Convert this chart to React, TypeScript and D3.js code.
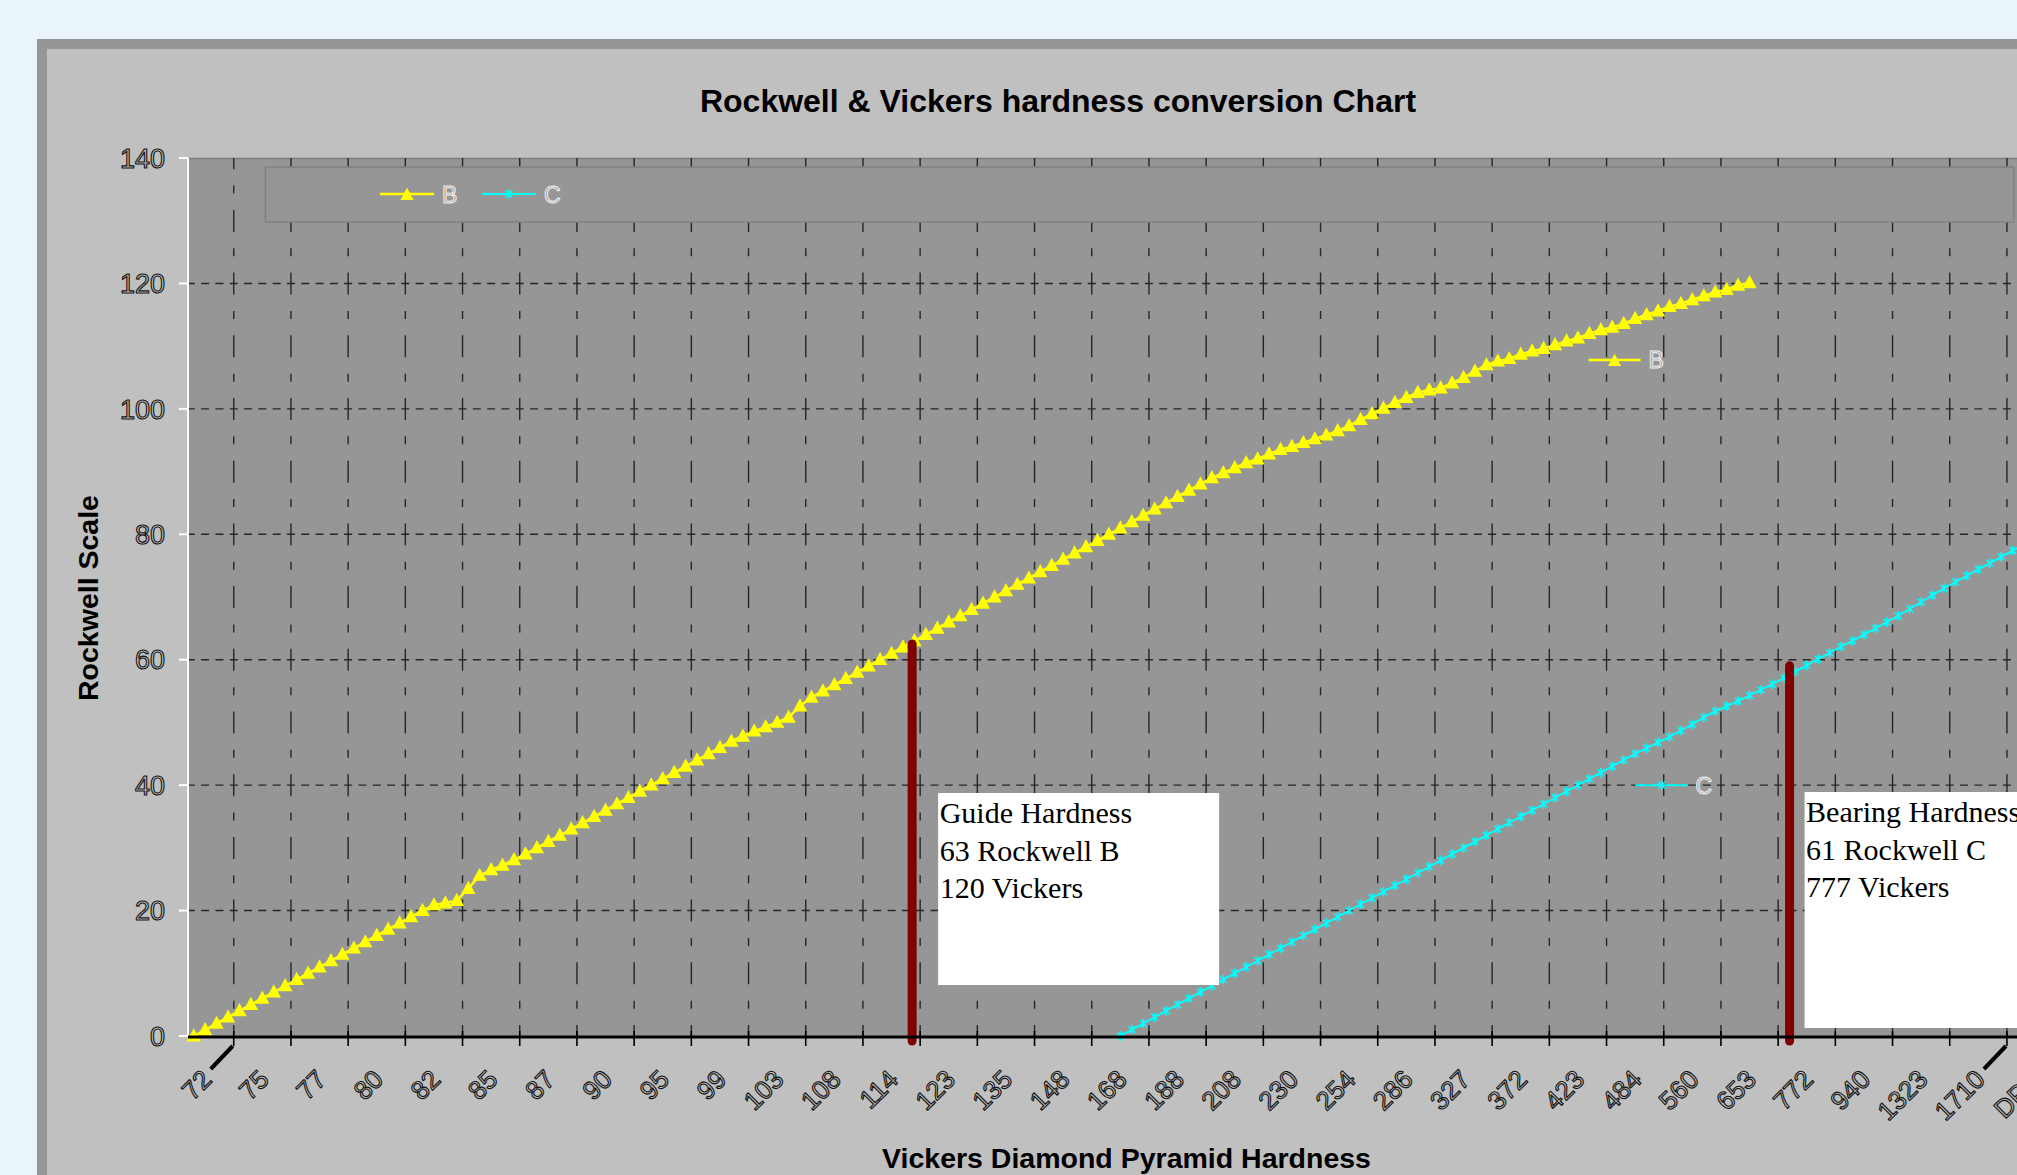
import React, { useEffect } from 'react';
import * as d3 from 'd3';

// ---------- data ----------
const X_LABELS = ['72', '75', '77', '80', '82', '85', '87', '90', '95', '99', '103', '108', '114', '123', '135', '148', '168', '188', '208', '230', '254', '286', '327', '372', '423', '484', '560', '653', '772', '940', '1323', '1710', 'DPH'];
const Y_TICKS = [0, 20, 40, 60, 80, 100, 120, 140];

// Rockwell B, one value per category starting at category 0
const B_VALUES = [
  0, 1, 2, 3, 4, 5, 6, 7, 8, 9,
  10, 11, 12, 13, 14, 15, 16, 17, 18, 19,
  20, 20.9, 21.2, 21.6, 23.5, 25.6, 26.5, 27.2, 28.1, 29,
  30, 31, 32, 33, 34, 35, 36, 37, 38, 39,
  40, 41, 42, 43, 44, 45, 46, 47, 47.8, 48.6,
  49.3, 50, 50.8, 52.6, 54, 55, 56, 57, 58, 59,
  60, 61, 62, 63, 64, 65, 66, 67, 68, 69,
  70, 71, 72, 73, 74, 75, 76, 77, 78, 79,
  80, 81, 82, 83, 84, 85, 86, 87, 88, 89,
  89.8, 90.6, 91.4, 92, 92.8, 93.5, 94, 94.6, 95.2, 95.8,
  96.5, 97.3, 98.3, 99.2, 100.1, 101, 101.8, 102.6, 103, 103.3,
  104.1, 105, 106, 107, 107.6, 108, 108.7, 109.2, 109.6, 110.2,
  110.8, 111.3, 112, 112.6, 113, 113.6, 114.4, 115, 115.6, 116.3,
  116.8, 117.4, 118, 118.6, 119, 119.7, 120.1,
];

// Rockwell C, starting at category C_START
const C_START = 81;
const C_VALUES = [
  0, 1, 2, 3, 4, 5, 6, 7, 8, 9,
  10, 11, 12, 13, 14, 15, 16, 17, 18, 19,
  20, 21, 22, 23, 24, 25, 26, 27, 28, 29,
  30, 31, 32, 33, 34, 35, 36, 37, 38, 39,
  40, 41, 42, 43, 44, 45, 45.9, 46.8, 47.7, 48.7,
  49.7, 50.8, 51.8, 52.6, 53.4, 54.3, 55.2, 56.1, 57.1, 58.1,
  59.1, 60.1, 61.1, 62.1, 63, 64, 65, 66, 67, 68.1,
  69.2, 70.3, 71.4, 72.4, 73.4, 74.4, 75.4, 76.4, 77.4, 78.4,
];

const ANNOTATIONS = [
  { at: 62.8, value: 63, lines: ['Guide Hardness', '63 Rockwell B', '120 Vickers'] },
  { at: 139.5, value: 59.5, lines: ['Bearing Hardness', '61 Rockwell C', '777 Vickers'] },
];

const SERIES_TAGS = [
  { name: 'B', at: 124.2, value: 107.8 },
  { name: 'C', at: 128.3, value: 40 },
];

// ---------- layout ----------
const W = 2017;
const H = 1175;
const PLOT_LEFT = 188;
const PLOT_TOP = 158;
const PLOT_BOTTOM = 1036;
const CAT_W = 11.44;
const FIRST_CAT_X = 193.7;
const TICK_EVERY = 5;
const TICK_OFFSET = 3.5;
const BOX_LAYOUT = [
  { dx: 26, top: 793, w: 281, h: 192, base: 823 },
  { dx: 15, top: 792, w: 300, h: 236, base: 822 },
];
const SANS = '"Liberation Sans", Arial, sans-serif';
const SERIF = '"Liberation Serif", "Times New Roman", serif';
const YELLOW = '#ffff00';
const CYAN = '#00ffff';
const MAROON = '#800000';

const xScale = d3.scaleLinear().domain([0, 1]).range([FIRST_CAT_X, FIRST_CAT_X + CAT_W]);
const yScale = d3.scaleLinear().domain([0, 140]).range([PLOT_BOTTOM, PLOT_TOP]);

const bPoints: [number, number][] = B_VALUES.map((v, i) => [xScale(i), yScale(v)]);
const cPoints: [number, number][] = C_VALUES.map((v, i) => [xScale(C_START + i), yScale(v)]);
const lineGen = d3.line<[number, number]>().x((d) => d[0]).y((d) => d[1]);

const tickX = (k: number) => xScale(TICK_OFFSET + TICK_EVERY * k);

function triangle(x: number, y: number, s = 1.2) {
  return `M${x},${y - 6.5 * s} L${x + 6 * s},${y + 4.5 * s} L${x - 6 * s},${y + 4.5 * s} Z`;
}
function star(x: number, y: number) {
  const a = 3.4;
  return `M${x - a},${y - a} L${x + a},${y + a} M${x - a},${y + a} L${x + a},${y - a} M${x},${y - 4.8} L${x},${y + 4.8}`;
}

export default function App() {
  useEffect(() => {
    document.body.style.margin = '0';
    document.body.style.overflow = 'hidden';
  }, []);

  const hGrid = Y_TICKS.filter((t) => t > 0 && t < 140);
  const vGrid = X_LABELS.map((_, k) => tickX(k)).filter((x) => x < W + 60);
  const hDashOffset = 4 - ((tickX(0) - PLOT_LEFT) % 14.3);

  return (
    <svg width={W} height={H} style={{ position: 'absolute', left: 0, top: 0, display: 'block' }}>
      <rect x={0} y={0} width={W} height={H} fill="#e9f5f8" />
      {/* chart frame */}
      <rect x={37} y={39} width={W} height={H} fill="#969696" />
      <rect x={47} y={49} width={W} height={H} fill="#c0c0c0" />

      {/* plot area */}
      <rect x={PLOT_LEFT} y={PLOT_TOP} width={W} height={PLOT_BOTTOM - PLOT_TOP} fill="#969696" />
      <line x1={PLOT_LEFT} x2={W} y1={PLOT_TOP + 0.5} y2={PLOT_TOP + 0.5} stroke="#7e7e7e" strokeWidth={1.5} />

      {/* gridlines */}
      {hGrid.map((t) => (
        <line
          key={'h' + t}
          x1={PLOT_LEFT}
          x2={W}
          y1={yScale(t)}
          y2={yScale(t)}
          stroke="#262626"
          strokeWidth={1.4}
          strokeDasharray="8 6.3"
          strokeDashoffset={hDashOffset}
        />
      ))}
      {vGrid.map((x, k) => (
        <line
          key={'v' + k}
          x1={x}
          x2={x}
          y1={PLOT_BOTTOM}
          y2={PLOT_TOP}
          stroke="#262626"
          strokeWidth={1.4}
          strokeDasharray="22 16.35 8 16.35"
          strokeDashoffset={11}
        />
      ))}

      {/* legend box */}
      <rect x={265.5} y={167} width={1748.5} height={55} fill="#969696" stroke="#818181" strokeWidth={1.5} />
      <g>
        <line x1={380} x2={434} y1={194} y2={194} stroke={YELLOW} strokeWidth={2.5} />
        <path d={triangle(407, 195, 1.1)} fill={YELLOW} />
        <text x={442} y={202.5} fontFamily={SANS} fontSize={23} fill="none" stroke="#f2f2f2" strokeWidth={1}>B</text>
        <line x1={482} x2={536} y1={194} y2={194} stroke={CYAN} strokeWidth={2} />
        <path d={star(509, 194)} stroke={CYAN} strokeWidth={1.5} fill="none" />
        <text x={544} y={202.5} fontFamily={SANS} fontSize={23} fill="none" stroke="#f2f2f2" strokeWidth={1}>C</text>
      </g>

      {/* series C */}
      <path d={lineGen(cPoints) || ''} fill="none" stroke={CYAN} strokeWidth={1.8} />
      {cPoints.map(([x, y], i) => (
        <path key={'c' + i} d={star(x, y)} stroke={CYAN} strokeWidth={1.5} fill="none" />
      ))}

      {/* series B */}
      <path d={lineGen(bPoints) || ''} fill="none" stroke={YELLOW} strokeWidth={2.5} />
      {bPoints.map(([x, y], i) => (
        <path key={'b' + i} d={triangle(x, y)} fill={YELLOW} />
      ))}

      {/* inline series tags */}
      {SERIES_TAGS.map((t) => {
        const x = xScale(t.at);
        const y = yScale(t.value);
        const col = t.name === 'B' ? YELLOW : CYAN;
        return (
          <g key={t.name}>
            <line x1={x - 26} x2={x + 26} y1={y} y2={y} stroke={col} strokeWidth={t.name === 'B' ? 2.5 : 2} />
            {t.name === 'B' ? (
              <path d={triangle(x, y + 1, 1.1)} fill={col} />
            ) : (
              <path d={star(x, y)} stroke={col} strokeWidth={1.5} fill="none" />
            )}
            <text x={x + 34} y={y + 8.5} fontFamily={SANS} fontSize={23} fill="none" stroke="#f2f2f2" strokeWidth={1}>
              {t.name}
            </text>
          </g>
        );
      })}

      {/* annotations */}
      {ANNOTATIONS.map((a, i) => {
        const x = xScale(a.at);
        const L = BOX_LAYOUT[i];
        return (
          <g key={'a' + i}>
            <line x1={x} x2={x} y1={yScale(a.value) + 3} y2={yScale(0) + 5} stroke={MAROON} strokeWidth={9} strokeLinecap="round" />
            <rect x={x + L.dx} y={L.top} width={L.w} height={L.h} fill="#ffffff" />
            {a.lines.map((s, j) => (
              <text key={j} x={x + L.dx + 1.5} y={L.base + j * 37.6} fontFamily={SERIF} fontSize={30} fill="#000">
                {s}
              </text>
            ))}
          </g>
        );
      })}

      {/* y axis */}
      <line x1={PLOT_LEFT} x2={PLOT_LEFT} y1={PLOT_TOP} y2={PLOT_BOTTOM} stroke="#ffffff" strokeWidth={2} />
      {Y_TICKS.map((t) => (
        <g key={'yt' + t}>
          <line x1={179} x2={PLOT_LEFT} y1={yScale(t)} y2={yScale(t)} stroke="#ffffff" strokeWidth={2} />
          <text x={165} y={yScale(t)} dy="0.36em" textAnchor="end" fontFamily={SANS} fontSize={27} fill="none" stroke="#111" strokeWidth={1.1}>
            {t}
          </text>
        </g>
      ))}

      {/* x axis */}
      <line x1={PLOT_LEFT} x2={W} y1={PLOT_BOTTOM + 1} y2={PLOT_BOTTOM + 1} stroke="#000" strokeWidth={3} />
      {X_LABELS.map((lab, k) => {
        const x = tickX(k);
        return (
          <g key={'xt' + k}>
            <line x1={x} x2={x} y1={PLOT_BOTTOM - 5} y2={PLOT_BOTTOM + 10} stroke="#000" strokeWidth={1.6} />
            <text
              x={x - 20.5}
              y={1081}
              transform={`rotate(-45 ${x - 20.5} 1081)`}
              textAnchor="end"
              fontFamily={SANS}
              fontSize={26}
              fill="none"
              stroke="#111"
              strokeWidth={1.1}
            >
              {lab}
            </text>
          </g>
        );
      })}
      {[0, 31].map((k) => {
        const x = tickX(k);
        return <line key={'sl' + k} x1={x - 1} x2={x - 23} y1={PLOT_BOTTOM + 10} y2={PLOT_BOTTOM + 33} stroke="#000" strokeWidth={4} />;
      })}

      {/* titles */}
      <text x={1058} y={112} textAnchor="middle" fontFamily={SANS} fontWeight="bold" fontSize={32} fill="#000">
        Rockwell &amp; Vickers hardness conversion Chart
      </text>
      <text x={1126.5} y={1168} textAnchor="middle" fontFamily={SANS} fontWeight="bold" fontSize={28.5} fill="#000">
        Vickers Diamond Pyramid Hardness
      </text>
      <text
        x={98}
        y={598}
        transform="rotate(-90 98 598)"
        textAnchor="middle"
        fontFamily={SANS}
        fontWeight="bold"
        fontSize={28.5}
        fill="#000"
      >
        Rockwell Scale
      </text>
    </svg>
  );
}
